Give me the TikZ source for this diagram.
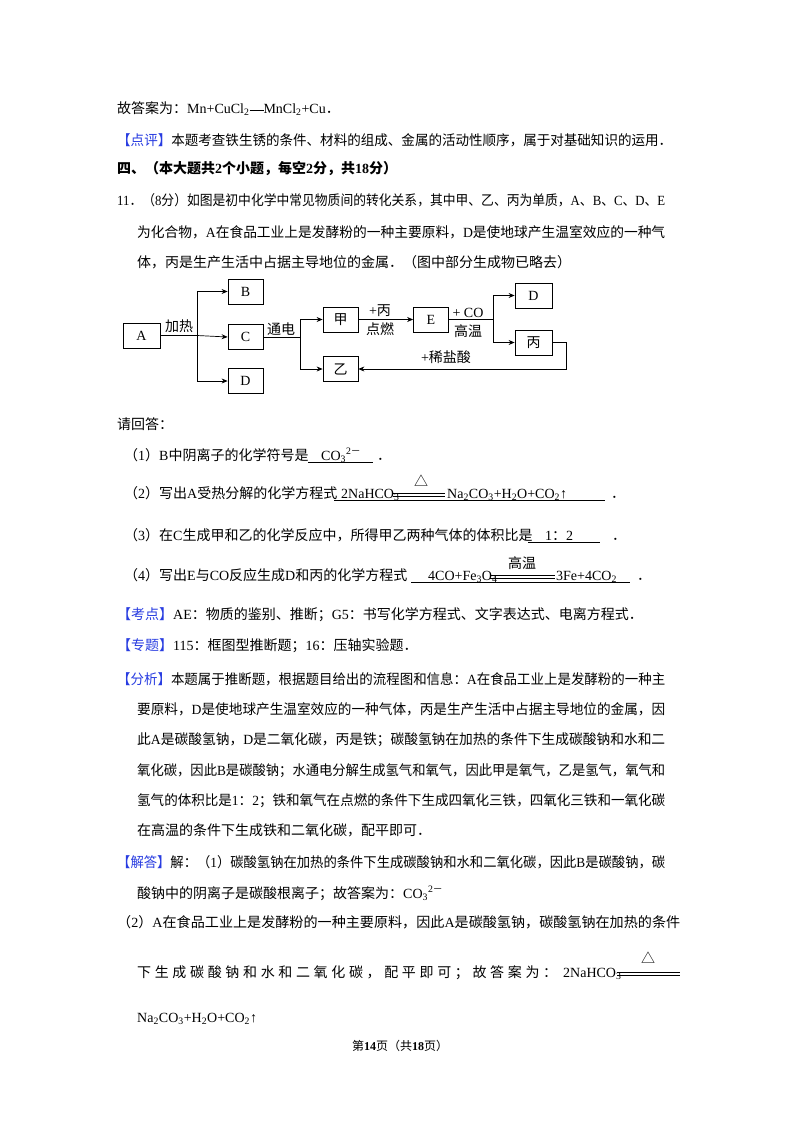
\documentclass[tikz,border=0pt]{standalone}
\usepackage{fontspec}
\usepackage{graphicx}
\setmainfont{Liberation Serif}
\newfontfamily\cjk{Noto Sans CJK SC}
\usetikzlibrary{arrows.meta}
\XeTeXinterchartokenstate=1
\newXeTeXintercharclass\CJKcls
\newcount\cc
\def\setrange#1#2{\cc=#1 \loop\XeTeXcharclass\cc=\CJKcls\advance\cc by 1 \ifnum\cc<#2\repeat}
\setrange{"3000}{"3040}
\setrange{"4E00}{"A000}
\setrange{"FF00}{"FFF0}
\setrange{"25B3}{"25B4}
\XeTeXinterchartoks 0 \CJKcls = {\begingroup\cjk}
\XeTeXinterchartoks 4095 \CJKcls = {\begingroup\cjk}
\XeTeXinterchartoks \CJKcls 0 = {\endgroup}
\XeTeXinterchartoks \CJKcls 4095 = {\endgroup}
\definecolor{cblue}{RGB}{40,60,225}
\newcommand{\sub}[1]{\textsubscript{#1}}
\newcommand{\tag}[1]{{\color{cblue}【#1】}}
\newcommand{\fitw}[2]{\resizebox{#1}{\height}{#2}}
\begin{document}
\begin{tikzpicture}[x=1pt,y=-1pt,
  every node/.style={inner sep=0pt,font=\fontsize{14}{16}\selectfont},
  t/.style={anchor=base west},
  box/.style={draw,line width=0.8pt,minimum width=35pt,minimum height=25pt},
  lbl/.style={font=\fontsize{14}{16}\selectfont},
  arr/.style={line width=0.7pt,-{Stealth[length=6pt,width=5pt]}},
  ln/.style={line width=0.7pt}]
\useasboundingbox[fill=white] (0,0) rectangle (800,1132);
\node[t] (l1) at (117,113) {故答案为：Mn+CuCl\sub{2}\rule[0.3ex]{1em}{1.2pt}MnCl\sub{2}+Cu．};
\node[t] (l2) at (117,145) {\fitw{555pt}{\tag{点评}本题考查铁生锈的条件、材料的组成、金属的活动性顺序，属于对基础知识的运用．}};
\node[t] (l3) at (117,173) {\bfseries 四、（本大题共2个小题，每空2分，共18分）};
\node[t] (l4) at (117,205) {\fitw{548pt}{11．（8分）如图是初中化学中常见物质间的转化关系，其中甲、乙、丙为单质，A、B、C、D、E}};
\node[t] (l5) at (137,237) {\fitw{528pt}{为化合物，A在食品工业上是发酵粉的一种主要原料，D是使地球产生温室效应的一种气}};
\node[t] (l6) at (137,267) {体，丙是生产生活中占据主导地位的金属．（图中部分生成物已略去）};
% diagram
\node[box,minimum width=37pt] (A) at (141.5,335.5) {A};
\node[box] (B) at (245.5,291.5) {B};
\node[box] (C) at (245.5,337) {C};
\node[box] (D1) at (245.5,381) {D};
\node[box] (jia) at (340.5,319.5) {甲};
\node[box] (yi) at (340.5,369) {乙};
\node[box] (E) at (431,319.5) {E};
\node[box,minimum width=37pt] (D2) at (533.5,295.5) {D};
\node[box,minimum width=37pt] (bing) at (533.5,342.5) {丙};
\coordinate (j1) at (197,335.5);
\coordinate (j2) at (300,337);
\coordinate (j3) at (493,319.5);
\draw[arr] (A.east) -- (j1) -- (C.west);
\draw[arr] (j1) |- (B.west);
\draw[arr] (j1) |- (D1.west);
\draw[ln] (C.east) -- (j2);
\draw[arr] (j2) |- (jia.west);
\draw[arr] (j2) |- (yi.west);
\draw[arr] (jia.east) -- (E.west);
\draw[ln] (E.east) -- (j3);
\draw[arr] (j3) |- (D2.west);
\draw[arr] (j3) |- (bing.west);
\draw[arr] (bing.east) -- ++(14,0) |- (yi.east);
\node[lbl] (h1) at (179,326) {加热};
\node[lbl] (h2) at (281,329) {通电};
\node[lbl] (h3) at (380,311) {+丙};
\node[lbl] (h4) at (380,329) {点燃};
\node[lbl] (h5) at (468,313) {+ CO};
\node[lbl] (h6) at (468,331) {高温};
\node[lbl] (h7) at (446,357) {+稀盐酸};
% questions
\node[t] (q0) at (117,429) {请回答：};
\node[t] (q1) at (124,460) {（1）B中阴离子的化学符号是};
\draw[ln] (308,462) -- (373,462);
\node[t] (a1) at (321,460) {CO\sub{3}\textsuperscript{2－}};
\node[t] at (377,460) {．};
\node[t] (q2) at (124,498) {（2）写出A受热分解的化学方程式};
\draw[ln] (334,500) -- (605,500);
\node[t] at (341,498) {2NaHCO\sub{3}};
\draw[ln] (393,493) -- (445,493) (393,496) -- (445,496);
\node (d1) at (421,481) {△};
\node[t] at (447,498) {Na\sub{2}CO\sub{3}+H\sub{2}O+CO\sub{2}↑};
\node[t] at (611,498) {．};
\node[t] (q3) at (124,540) {（3）在C生成甲和乙的化学反应中，所得甲乙两种气体的体积比是};
\draw[ln] (528,542) -- (600,542);
\node[t] at (545,540) {1：2};
\node[t] at (612,540) {．};
\node[t] (q4) at (124,580) {（4）写出E与CO反应生成D和丙的化学方程式};
\draw[ln] (411,582) -- (630,582);
\node[t] at (428,580) {4CO+Fe\sub{3}O\sub{4}};
\draw[ln] (490,575) -- (555,575) (490,578) -- (555,578);
\node (g1) at (522,563) {高温};
\node[t] at (556,580) {3Fe+4CO\sub{2}};
\node[t] at (637,580) {．};
% analysis
\node[t] (k1) at (117,619) {\tag{考点}AE：物质的鉴别、推断；G5：书写化学方程式、文字表达式、电离方程式．};
\node[t] (k2) at (117,650) {\tag{专题}115：框图型推断题；16：压轴实验题．};
\node[t] (k3) at (117,684) {\fitw{548pt}{\tag{分析}本题属于推断题，根据题目给出的流程图和信息：A在食品工业上是发酵粉的一种主}};
\node[t] (k4) at (137,714) {\fitw{528pt}{要原料，D是使地球产生温室效应的一种气体，丙是生产生活中占据主导地位的金属，因}};
\node[t] (k5) at (137,744) {\fitw{528pt}{此A是碳酸氢钠，D是二氧化碳，丙是铁；碳酸氢钠在加热的条件下生成碳酸钠和水和二}};
\node[t] (k6) at (137,775) {\fitw{528pt}{氧化碳，因此B是碳酸钠；水通电分解生成氢气和氧气，因此甲是氧气，乙是氢气，氧气和}};
\node[t] (k7) at (137,805) {\fitw{528pt}{氢气的体积比是1：2；铁和氧气在点燃的条件下生成四氧化三铁，四氧化三铁和一氧化碳}};
\node[t] (k8) at (137,835) {在高温的条件下生成铁和二氧化碳，配平即可．};
\node[t] (s1) at (117,867) {\fitw{548pt}{\tag{解答}解：（1）碳酸氢钠在加热的条件下生成碳酸钠和水和二氧化碳，因此B是碳酸钠，碳}};
\node[t] (s2) at (137,898) {酸钠中的阴离子是碳酸根离子；故答案为：CO\sub{3}\textsuperscript{2－}};
\node[t] (s3) at (117,927) {\fitw{563pt}{（2）A在食品工业上是发酵粉的一种主要原料，因此A是碳酸氢钠，碳酸氢钠在加热的条件}};
\node[t] (s4) at (137,977) {\makebox[420pt][s]{下 生 成 碳 酸 钠 和 水 和 二 氧 化 碳 ， 配 平 即 可 ； 故 答 案 为 ：}};
\node[t] at (563,977) {2NaHCO\sub{3}};
\draw[ln] (617,972) -- (680,972) (617,975) -- (680,975);
\node (d2) at (648,958) {△};
\node[t] (s5) at (137,1022) {Na\sub{2}CO\sub{3}+H\sub{2}O+CO\sub{2}↑};
\node (pg) at (400,1046) {\fontsize{12}{14}\selectfont 第\textbf{14}页（共\textbf{18}页）};
\end{tikzpicture}
\end{document}
